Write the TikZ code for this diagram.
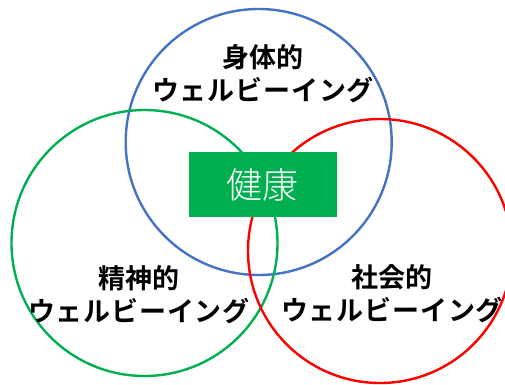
\documentclass[tikz,border=0pt]{standalone}
\usepackage{fontspec}
\newfontfamily\cjk{Noto Sans CJK JP}
\newfontfamily\cjkbold{Noto Sans CJK JP Bold}
\newfontfamily\cjklight{Noto Sans CJK JP Light}
\definecolor{cblue}{HTML}{4472C4}
\definecolor{cgreen}{HTML}{00B050}
\definecolor{cred}{HTML}{FF0000}
\begin{document}
\begin{tikzpicture}[x=1pt,y=-1pt,
  ring/.style={line width=2.4pt},
  lbl/.style={font=\cjkbold\fontsize{27}{33}\selectfont, align=center, text=black, inner sep=0pt}]
\useasboundingbox (0,0) rectangle (505,384);
\begin{scope}
\clip (0,0) rectangle (505,384);
\draw[ring, cblue] (258.7,142) circle[radius=133];
\draw[ring, cgreen] (144.5,243) circle[radius=133];
\draw[ring, cred] (380,251) circle[radius=132];
\end{scope}
\node[fill=cgreen, minimum width=147.5pt, minimum height=64.5pt, inner sep=0pt,
  font=\cjklight\fontsize{36}{36}\selectfont, text=white] (kenko) at (262.8,184.5) {健康};
\node[lbl] (phys) at (263,73.5) {身体的\\\addfontfeature{LetterSpace=3}ウェルビーイング};
\node[lbl] (ment) at (139,294.5) {精神的\\\addfontfeature{LetterSpace=3}ウェルビーイング};
\node[lbl] (soc) at (392,293.5) {社会的\\\addfontfeature{LetterSpace=3}ウェルビーイング};
\end{tikzpicture}
\end{document}
